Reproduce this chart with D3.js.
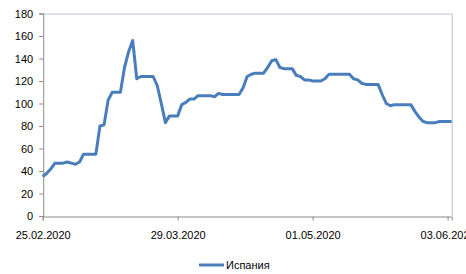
<html>
  <head>
    <meta charset="utf-8">
    <script src="https://cdn.jsdelivr.net/npm/d3@7/dist/d3.min.js"></script>
    <style>
      body { margin: 0; background: #fff; }
      text { font-family: "Liberation Sans", Arial, sans-serif; font-size: 11px; fill: #000; }
    </style>
    <script type="text/javascript">
      // daily values from 25.02.2020
      var startDate = "25.02.2020"
      var endDate = "04.06.2020"
      var spain = [35, 38, 42, 47, 47, 47, 48, 47, 46, 48,
                   55, 55, 55, 55, 80, 81, 103, 110, 110, 110,
                   132, 146, 156, 122, 124, 124, 124, 124, 116, 100,
                   83, 89, 89, 89, 99, 101, 104, 104, 107, 107,
                   107, 107, 106, 109, 108, 108, 108, 108, 108, 114,
                   124, 126, 127, 127, 127, 132, 138, 139, 132, 131,
                   131, 131, 125, 124, 121, 121, 120, 120, 120, 122,
                   126, 126, 126, 126, 126, 126, 122, 121, 118, 117,
                   117, 117, 117, 108, 100, 98, 99, 99, 99, 99,
                   99, 93, 88, 84, 83, 83, 83, 84, 84, 84, 84]
      var xTickLabels = ["25.02.2020", "29.03.2020", "01.05.2020", "03.06.2020"]
      var yTicks = [0, 20, 40, 60, 80, 100, 120, 140, 160, 180]
      var seriesName = "Испания"

      window.onload = function(){
        var width = 466
        var height = 274
        var plot = { left: 42.7, right: 451.7, top: 13.5, bottom: 216 }

        var parse = d3.timeParse("%d.%m.%Y")
        var t0 = parse(startDate)
        var data = spain.map(function(v, i){
          return { date: d3.timeDay.offset(t0, i), value: v }
        })

        var svg = d3.select("body").append("svg")
          .attr("width", width)
          .attr("height", height)

        var x = d3.scaleTime()
          .domain([t0, parse(endDate)])
          .range([plot.left, plot.right])

        var y = d3.scaleLinear()
          .domain([0, 180])
          .range([plot.bottom, plot.top])

        // plot area border (top + right)
        svg.append("path")
          .attr("d", "M" + plot.left + "," + (plot.top + 0.5) + "H" + (plot.right + 0.5) + "V" + plot.bottom)
          .attr("fill", "none")
          .attr("stroke", "#b4c4df")
          .attr("stroke-width", 1)

        var yAxis = svg.append("g")
          .attr("transform", "translate(" + (plot.left + 0.5) + ",0)")
          .call(d3.axisLeft(y).tickValues(yTicks).tickSize(4).tickPadding(6))
        yAxis.select(".domain").attr("stroke", "#8c8c8c")
        yAxis.selectAll(".tick line").attr("stroke", "#8c8c8c")
        yAxis.selectAll("text").style("font-size", "11px").attr("fill", "#000")

        var xAxis = svg.append("g")
          .attr("transform", "translate(0," + (plot.bottom + 0.5) + ")")
          .call(d3.axisBottom(x)
            .tickValues(xTickLabels.map(parse))
            .tickFormat(d3.timeFormat("%d.%m.%Y"))
            .tickSize(4).tickPadding(11))
        xAxis.select(".domain").attr("stroke", "#8c8c8c")
        xAxis.selectAll(".tick line").attr("stroke", "#8c8c8c")
        xAxis.selectAll("text").style("font-size", "11px").attr("fill", "#000")

        var line = d3.line()
          .x(function(d){ return x(d.date) })
          .y(function(d){ return y(d.value) })

        svg.append("path")
          .datum(data)
          .attr("fill", "none")
          .attr("stroke", "#4a7ebb")
          .attr("stroke-width", 3)
          .attr("stroke-linejoin", "round")
          .attr("d", line)

        // legend
        var legend = svg.append("g").attr("transform", "translate(199,265)")
        legend.append("line")
          .attr("x1", 0).attr("x2", 25)
          .attr("y1", 0).attr("y2", 0)
          .attr("stroke", "#4a7ebb")
          .attr("stroke-width", 3)
        legend.append("text")
          .attr("x", 27)
          .attr("y", 4)
          .text(seriesName)
      }
    </script>
  </head>
  <body>
  </body>
</html>
